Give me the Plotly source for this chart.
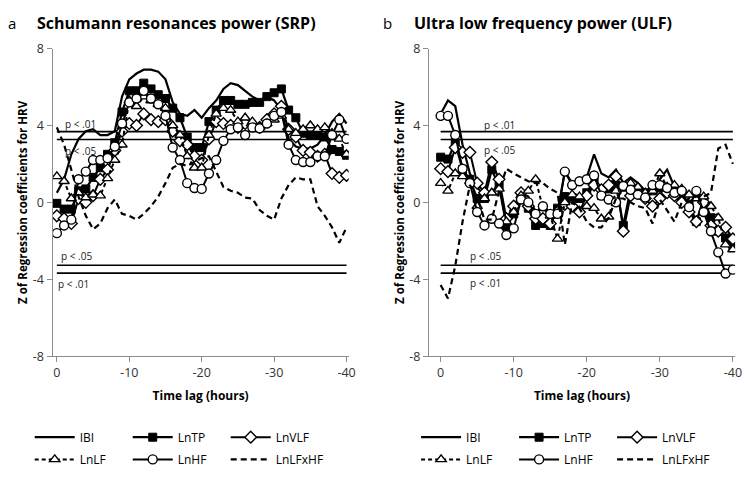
import plotly.graph_objects as go

lags = list(range(0, -41, -1))
x_ticks = [0, -10, -20, -30, -40]
x_tick_labels = ["0", "-10", "-20", "-30", "-40"]
y_ticks = [-8, -4, 0, 4, 8]
y_tick_labels = ["-8", "-4", "0", "4", "8"]
thresholds = [3.27, 3.68, -3.27, -3.68]
series_names = ["IBI", "LnTP", "LnVLF", "LnLF", "LnHF", "LnLFxHF"]

# Panel a: Schumann resonances power (SRP)
srp_ibi = [0.5, 1.2, 2.5, 3.3, 3.7, 3.8, 3.5, 3.5, 3.7, 5.5, 6.4, 6.7, 6.9, 6.9, 6.8, 6.4, 5.2, 4.6, 4.5, 4.8, 4.4,
           4.9, 5.3, 5.9, 6.2, 6.1, 5.8, 5.5, 5.3, 5.5, 5.3, 4.8, 3.3, 2.9, 2.8, 2.8, 3.0, 3.5, 4.2, 4.6, 4.1]
srp_lntp = [-0.05, -0.35, -0.35, 0.6, 0.7, 1.3, 1.8, 2.5, 3.1, 4.7, 5.8, 5.8, 6.2, 5.9, 5.6, 5.4, 4.9, 4.4, 3.4, 2.85, 2.85,
            4.2, 4.8, 5.3, 5.3, 5.1, 5.1, 5.2, 5.2, 5.5, 5.7, 5.9, 4.8, 4.4, 3.6, 3.5, 3.5, 3.4, 2.75, 2.65, 2.45]
srp_lnvlf = [-0.7, -0.85, -1.1, 0.2, 0.0, 0.35, 1.2, 1.7, 2.7, 3.7, 4.1, 4.0, 4.6, 4.3, 4.2, 4.3, 3.7, 3.2, 3.0, 2.4, 2.2,
             3.3, 4.2, 4.1, 4.0, 3.9, 4.1, 4.0, 3.9, 4.3, 4.6, 5.0, 3.8, 3.4, 2.7, 2.6, 2.4, 2.5, 1.5, 1.3, 1.4]
srp_lnlf = [1.35, 1.1, 0.2, 0.5, 0.25, 0.4, 0.35, 1.25, 2.2, 3.0, 5.3, 5.0, 5.5, 5.3, 5.1, 4.9, 4.0, 3.5, 2.4, 1.8, 1.8,
            3.5, 4.6, 4.9, 4.8, 4.2, 4.4, 4.2, 3.9, 4.1, 4.3, 4.5, 3.8, 3.6, 3.8, 4.0, 3.8, 3.9, 3.6, 3.3, 2.5]
srp_lnhf = [-1.6, -1.2, -0.9, 1.2, 1.6, 2.2, 2.2, 2.3, 2.9, 4.1, 5.2, 5.4, 5.8, 5.4, 5.1, 4.5, 2.85, 2.2, 1.0, 0.75, 0.7,
            1.5, 2.2, 3.2, 3.8, 3.9, 3.5, 3.9, 3.85, 4.1, 4.5, 4.7, 3.0, 2.2, 2.1, 2.1, 2.4, 2.4, 3.5, 4.3, 3.3]
srp_lnlfxhf = [3.9, 3.0, 1.7, 0.3, -0.7, -1.4, -1.1, -0.3, 0.15, -0.6, -0.7, -0.9, -0.6, -0.2, 0.3, 1.0, 1.8, 2.0, 1.9,
               2.1, 2.3, 2.4, 1.6, 0.8, 0.6, 0.5, 0.25, 0.2, -0.4, -0.7, -0.9, 0.2, 0.9, 1.3, 1.2, 1.2, -0.2, -0.7,
               -1.3, -2.1, -1.3]

# Panel b: Ultra low frequency power (ULF)
ulf_ibi = [4.6, 5.3, 5.0, 3.0, 1.5, 0.8, 0.3, 0.5, 1.0, -1.0, -0.5, 0.5, 0.3, -0.5, -0.8, -0.9, -0.5, 1.6, 1.0, 1.2,
           1.3, 2.5, 1.5, 1.3, 1.7, 1.0, 1.3, 1.0, 0.6, 0.5, 1.2, 1.7, 0.8, 0.5, 0.3, 0.6, -0.5, -1.0, -1.5, -1.8, -2.0]
ulf_lntp = [2.35, 2.25, 3.1, 1.7, 1.2, 0.2, 0.2, 1.7, 0.85, -1.2, -0.6, 0.2, -0.3, -1.2, -1.1, -1.2, -0.3, 0.3, 0.25,
            0.2, 0.5, 1.2, 0.35, 0.7, 0.9, -1.2, 0.7, 0.6, 0.5, 0.6, 0.75, 0.6, 0.5, 0.2, -0.1, -1.0, 0.2, -0.8, -1.5,
            -1.85, -2.35]
ulf_lnvlf = [1.75, 1.6, 2.85, 2.6, 2.6, 1.0, 0.5, 2.1, 1.2, -0.85, -0.2, 0.5, -0.2, -0.85, -0.85, -1.1, -0.5, -0.1,
             -0.2, -0.5, 0.35, 0.9, 0.65, 0.9, 1.35, -1.5, 0.35, 0.5, 0.2, -0.2, 0.2, 0.5, 0.35, 0.0, -0.5, -1.0, 0.0,
             -1.2, -1.5, -1.3, -1.9]
ulf_lnlf = [1.0, 0.6, 1.5, 1.35, 1.1, -0.2, 0.2, 0.5, 0.7, -1.0, -0.5, 0.35, 0.6, 1.2, -0.3, -0.7, -1.9, 0.0, 0.4, 0.3,
            -0.2, -0.3, -0.85, -0.75, 0.6, 0.7, 1.0, 0.8, 0.5, 0.6, 1.5, 0.8, 0.9, 0.7, 0.4, 0.2, 0.3, -0.2, -0.8,
            -2.2, -2.45]
ulf_lnhf = [4.5, 4.5, 3.5, 1.75, 1.0, -0.5, -1.2, -0.85, -1.1, -1.7, -1.35, 0.15, 0.0, -0.6, -0.2, -0.6, -0.6, 1.6,
            0.9, 1.1, 1.2, 1.4, 0.35, 0.15, 0.0, 0.85, 0.65, 0.4, 0.25, 0.9, 0.9, 0.75, 0.5, 0.6, -0.25, 0.6, -0.5,
            -1.5, -2.6, -3.7, -3.5]
ulf_lnlfxhf = [-4.3, -5.0, -3.3, -1.0, 0.9, 0.3, -0.9, -0.9, 0.6, 1.75, 1.5, 1.3, 1.1, 1.0, 1.0, 0.7, 0.5, -2.2, 0.0,
               -0.3, -1.0, -1.3, -1.3, -0.8, 0.2, 0.2, 0.0, -0.2, -0.3, -1.1, 0.15, -0.4, -1.0, 0.0, 0.2, 0.3, 0.3,
               0.5, 2.8, 3.0, 2.0]

FONT = "Open Sans"
styles = {
    "IBI": dict(mode="lines", line=dict(color="black", width=2.2)),
    "LnTP": dict(mode="lines+markers", line=dict(color="black", width=2.2),
                 marker=dict(symbol="square", size=8, color="black", line=dict(color="black", width=1))),
    "LnVLF": dict(mode="lines+markers", line=dict(color="black", width=2),
                  marker=dict(symbol="diamond", size=9, color="white", line=dict(color="black", width=1.4))),
    "LnLF": dict(mode="lines+markers", line=dict(color="black", width=2, dash="4px,3px"),
                 marker=dict(symbol="triangle-up", size=9, color="white", line=dict(color="black", width=1.4))),
    "LnHF": dict(mode="lines+markers", line=dict(color="black", width=2),
                 marker=dict(symbol="circle", size=9, color="white", line=dict(color="black", width=1.4))),
    "LnLFxHF": dict(mode="lines", line=dict(color="black", width=2.2, dash="6px,4px")),
}

fig = go.Figure()
panels = [
    ("x", "y", [srp_ibi, srp_lntp, srp_lnvlf, srp_lnlf, srp_lnhf, srp_lnlfxhf], ("legend", "legend2")),
    ("x2", "y2", [ulf_ibi, ulf_lntp, ulf_lnvlf, ulf_lnlf, ulf_lnhf, ulf_lnlfxhf], ("legend3", "legend4")),
]
for xa, ya, vals, legs in panels:
    for t in thresholds:
        fig.add_trace(go.Scatter(x=[lags[0], lags[-1]], y=[t, t], mode="lines", xaxis=xa, yaxis=ya,
                                 line=dict(color="black", width=1.6), showlegend=False, hoverinfo="skip"))
    for i, (name, v) in enumerate(zip(series_names, vals)):
        fig.add_trace(go.Scatter(x=lags, y=v, name=name, xaxis=xa, yaxis=ya,
                                 legend=legs[0] if i < 3 else legs[1], **styles[name]))

axis_common = dict(showgrid=False, zeroline=False, showline=True, linecolor="#8c8c8c", linewidth=1,
                   ticks="outside", ticklen=5, tickcolor="#8c8c8c",
                   tickfont=dict(family=FONT, size=12.5, color="#333333"))
ytitle = dict(text="<b>Z of Regression coefficients for HRV</b>", font=dict(family=FONT, size=11.5, color="black"),
              standoff=2)
xtitle = dict(text="<b>Time lag (hours)</b>", font=dict(family=FONT, size=12, color="black"), standoff=11)

fig.update_layout(
    width=750, height=478, margin=dict(l=0, r=0, t=0, b=0),
    paper_bgcolor="white", plot_bgcolor="white",
    xaxis=dict(domain=[53 / 750, 352 / 750], range=[0.6, -40.3], tickvals=x_ticks, ticktext=x_tick_labels,
               anchor="y", title=xtitle, **axis_common),
    yaxis=dict(domain=[118 / 478, 437 / 478], range=[-8, 8], tickvals=y_ticks, ticktext=y_tick_labels,
               anchor="x", title=ytitle, **axis_common),
    xaxis2=dict(domain=[433 / 750, 742 / 750], range=[1.6, -40.3], tickvals=x_ticks, ticktext=x_tick_labels,
                anchor="y2", title=xtitle, **axis_common),
    yaxis2=dict(domain=[118 / 478, 437 / 478], range=[-8, 8], tickvals=y_ticks, ticktext=y_tick_labels,
                anchor="x2", title=ytitle, **axis_common),
    showlegend=True,
)

leg_common = dict(orientation="h", xanchor="left", yanchor="middle", bgcolor="rgba(0,0,0,0)",
                  font=dict(family=FONT, size=12, color="black"), entrywidth=43, itemwidth=40,
                  tracegroupgap=0)
fig.update_layout(
    legend=dict(x=30 / 750, y=1 - 444 / 478, **leg_common),
    legend2=dict(x=30 / 750, y=1 - 467 / 478, **leg_common),
    legend3=dict(x=420 / 750, y=1 - 444 / 478, **leg_common),
    legend4=dict(x=420 / 750, y=1 - 467 / 478, **leg_common),
)

annots = [
    dict(text="a", x=6 / 750, y=1 - 14 / 478, font=dict(size=15)),
    dict(text="<b>Schumann resonances power (SRP)</b>", x=35 / 750, y=1 - 14 / 478, font=dict(size=16)),
    dict(text="b", x=385 / 750, y=1 - 14 / 478, font=dict(size=15)),
    dict(text="<b>Ultra low frequency power (ULF)</b>", x=416 / 750, y=1 - 14 / 478, font=dict(size=16)),
]
for a in annots:
    fig.add_annotation(xref="paper", yref="paper", xanchor="left", yanchor="middle", showarrow=False,
                       text=a["text"], x=a["x"], y=a["y"], font=dict(family=FONT, color="black", **a["font"]))

plabels = [("x", "y", -3.2, 4.07, "p < .01"), ("x", "y", -3.2, 2.66, "p < .05"),
           ("x", "y", -2.7, -2.81, "p < .05"), ("x", "y", -2.3, -4.27, "p < .01"),
           ("x2", "y2", -8.0, 4.02, "p < .01"), ("x2", "y2", -8.0, 2.71, "p < .05"),
           ("x2", "y2", -6.2, -2.81, "p < .05"), ("x2", "y2", -6.2, -4.17, "p < .01")]
for xr, yr, xv, yv, txt in plabels:
    fig.add_annotation(xref=xr, yref=yr, x=xv, y=yv, text=txt, showarrow=False,
                       font=dict(family=FONT, size=10, color="#222222"))

fig.write_html("out.html", config={"displayModeBar": False},
               post_script="document.body.style.margin='0';document.body.style.overflow='hidden';")
